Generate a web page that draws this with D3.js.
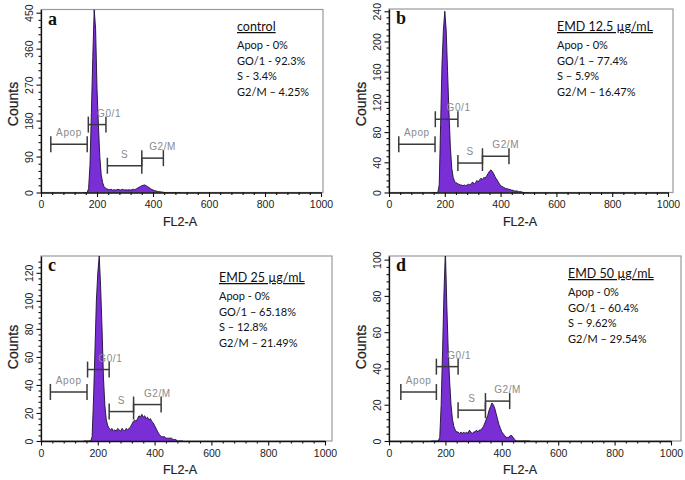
<!DOCTYPE html>
<html><head><meta charset="utf-8">
<script src="https://cdn.jsdelivr.net/npm/d3@7"></script>
<style>body{margin:0;background:#fff} svg{display:block}</style>
</head><body>
<svg id="chart" width="685" height="480"></svg>
<script>
// ---------- DATA ----------
const channels = [150,155,160,165,170,175,180,185,190,195,
                  200,205,210,215,220,225,230,235,240,245,
                  250,255,260,265,270,275,280,285,290,295,
                  300,305,310,315,320,325,330,335,340,345,
                  350,355,360,365,370,375,380,385,390,395,
                  400,405,410,415,420,425,430,435,440,445,
                  450,455,460,465,470,475,480,485,490,495,500];

const countsA = [0,0,0,0,10,70,200,340,458,410,
                 260,170,90,45,25,15,11,9,8,7,
                 8,6,7,6,7,8,7,6,8,7,
                 6,7,6,7,6,7,8,7,9,11,
                 13,15,17,18,19,17,15,13,10,8,
                 6,5,4,3,2,2,1,1,0,0,
                 0,0,0,0,0,0,0,0,0,0,0];
const countsB = [0,0,0,0,0,0,10,90,170,215,
                 240,215,160,105,60,32,20,15,13,12,
                 11,10,10,9,10,9,10,11,10,12,
                 14,11,13,16,14,17,19,17,20,19,
                 22,25,28,30,28,25,21,18,15,12,
                 9,8,7,6,5,5,4,4,3,3,
                 2,2,2,1,1,1,0,0,0,0,0];
const countsC = [0,0,0,0,0,0,3,30,65,100,
                 120,132,110,80,45,25,15,11,9,8,
                 9,7,8,7,9,8,7,9,8,7,
                 9,8,9,10,12,14,15,14,16,18,
                 17,19,17,18,16,17,15,16,14,13,
                 11,9,7,5,4,3,3,3,2,2,
                 2,2,2,1,1,1,0,0,0,0,0];
const countsD = [0,0,0,0,0,0,2,20,50,82,
                 105,75,50,33,20,12,8,6,5,5,
                 4,5,4,5,4,5,4,6,5,4,
                 5,5,6,5,6,6,7,8,10,12,
                 14,17,19,21,20,18,15,12,9,7,
                 5,4,3,2,2,2,3,3,2,1,
                 0,0,0,0,0,0,0,0,0,0,0];

const gateNames = ["Apop","G0/1","S","G2/M"];
// [low channel, high channel, count level]
const gatesA = [[35,165,121],[169,232,170],[237,360,67],[360,437,86]];
const gatesB = [[35,165,64],[166,247,97],[247,335,39],[335,430,48]];
const gatesC = [[33,162,35],[164,240,51],[240,326,21],[326,423,26]];
const gatesD = [[42,168,27],[168,245,41],[245,342,17],[342,428,22]];

const xTicks = [0,200,400,600,800,1000];
const yTicksA = [0,90,180,270,360,450];
const yTicksB = [0,40,80,120,160,200,240];
const yTicksC = [0,20,40,60,80,100,120];
const yTicksD = [0,20,40,60,80,100];

const panelLetters = ["a","b","c","d"];
const titles = ["control","EMD 12.5 µg/mL","EMD 25 µg/mL","EMD 50 µg/mL"];
const statsA = ["Apop - 0%","GO/1 - 92.3%","S - 3.4%","G2/M – 4.25%"];
const statsB = ["Apop - 0%","GO/1 – 77.4%","S – 5.9%","G2/M – 16.47%"];
const statsC = ["Apop - 0%","GO/1 – 65.18%","S – 12.8%","G2/M – 21.49%"];
const statsD = ["Apop - 0%","GO/1 – 60.4%","S – 9.62%","G2/M – 29.54%"];

// ---------- LAYOUT ----------
const panels = [
  {counts:countsA, gates:gatesA, yTicks:yTicksA, yMax:458, yMinor:18,  stats:statsA,
   L:{x0:41, x1:321, right:323, y0:192.5, top:9.5, ann:[237,31], cnt:[13,104], fl:[180,226]}},
  {counts:countsB, gates:gatesB, yTicks:yTicksB, yMax:243, yMinor:8,   stats:statsB,
   L:{x0:389, x1:668, right:673, y0:192.5, top:9, ann:[557,31], cnt:[361,104], fl:[520,226]}},
  {counts:countsC, gates:gatesC, yTicks:yTicksC, yMax:132, yMinor:4,   stats:statsC,
   L:{x0:41, x1:325, right:332, y0:441, top:256, ann:[219,282], cnt:[13,347], fl:[180,474]}},
  {counts:countsD, gates:gatesD, yTicks:yTicksD, yMax:102, yMinor:4,   stats:statsD,
   L:{x0:389, x1:671, right:681, y0:441, top:256, ann:[568,278], cnt:[361,347], fl:[520,474]}}
];

const svg = d3.select("#chart");
const PURPLE = "#7a2fd6";
const SANS = "'Liberation Sans', Arial, sans-serif";
const ANNF = "Lato, 'Open Sans', sans-serif";

panels.forEach((p, i) => {
  const L = p.L;
  const x = d3.scaleLinear().domain([0,1000]).range([L.x0, L.x1]);
  const y = d3.scaleLinear().domain([0,p.yMax]).range([L.y0, L.top]);
  const g = svg.append("g");

  // frame
  g.append("rect").attr("x",L.x0).attr("y",L.top)
    .attr("width",L.right-L.x0).attr("height",L.y0-L.top)
    .attr("fill","none").attr("stroke","#9a9a9a").attr("stroke-width",1.2);

  // histogram
  const clipId = "clip"+i;
  g.append("clipPath").attr("id",clipId).append("rect")
    .attr("x",L.x0).attr("y",L.top).attr("width",L.right-L.x0).attr("height",L.y0-L.top);
  const data = channels.map((c,k)=>({c, v:p.counts[k]}));
  const area = d3.area().x(d=>x(d.c)).y0(y(0)).y1(d=>y(d.v));
  const line = d3.line().x(d=>x(d.c)).y(d=>y(d.v));
  g.append("path").datum(data).attr("d",area).attr("fill",PURPLE).attr("clip-path",`url(#${clipId})`);
  g.append("path").datum(data).attr("d",line).attr("fill","none")
    .attr("stroke","#1c1030").attr("stroke-width",0.9).attr("clip-path",`url(#${clipId})`);

  // axes
  const xMinor = d3.range(0,1001,40).filter(v=>v%200!==0);
  const yMinorVals = d3.range(0,p.yMax,p.yMinor).filter(v=>!p.yTicks.includes(v));
  g.append("g").attr("transform",`translate(0,${L.y0})`)
    .call(d3.axisBottom(x).tickValues(xMinor).tickSize(2.5).tickFormat("").tickSizeOuter(0))
    .call(a=>a.select(".domain").remove());
  g.append("g").attr("transform",`translate(${L.x0},0)`)
    .call(d3.axisLeft(y).tickValues(yMinorVals).tickSize(2.5).tickFormat("").tickSizeOuter(0))
    .call(a=>a.select(".domain").remove());
  const xa = g.append("g").attr("transform",`translate(0,${L.y0})`)
    .call(d3.axisBottom(x).tickValues(xTicks).tickFormat(d3.format("d")).tickSize(4.5).tickPadding(4).tickSizeOuter(0));
  xa.selectAll("text").attr("font-family",SANS).attr("font-size",10.5).attr("fill","#222");
  const ya = g.append("g").attr("transform",`translate(${L.x0},0)`)
    .call(d3.axisLeft(y).tickValues(p.yTicks).tickFormat(d3.format("d")).tickSize(4.5).tickSizeOuter(0));
  ya.selectAll("text").attr("font-family",SANS).attr("font-size",10.5).attr("fill","#222")
    .attr("transform","rotate(-90)").attr("x",0).attr("y",-8).attr("dy","0")
    .attr("text-anchor","middle");
  [xa,ya].forEach(a=>{a.select(".domain").attr("stroke","#111").attr("stroke-width",1.3);});
  g.selectAll(".tick line").attr("stroke","#111").attr("stroke-width",1.1);

  // axis titles
  g.append("text").attr("transform",`translate(${L.cnt[0]},${L.cnt[1]}) rotate(-90)`)
    .attr("text-anchor","middle").attr("dy","0.35em").attr("font-family",SANS)
    .attr("font-size",14).attr("fill","#222").attr("stroke","#222").attr("stroke-width",0.25)
    .text("Counts");
  g.append("text").attr("x",L.fl[0]).attr("y",L.fl[1]).attr("text-anchor","middle")
    .attr("font-family",SANS).attr("font-size",12.5).attr("fill","#222")
    .attr("stroke","#222").attr("stroke-width",0.2).text("FL2-A");

  // gates
  p.gates.forEach((gt, k) => {
    const [lo, hi, lev] = gt;
    const gy = y(lev), xa0 = x(lo), xa1 = x(hi);
    const gg = g.append("g").attr("stroke","#3a3a3a").attr("stroke-width",1.5);
    gg.append("line").attr("x1",xa0).attr("x2",xa1).attr("y1",gy).attr("y2",gy);
    gg.append("line").attr("x1",xa0).attr("x2",xa0).attr("y1",gy-8).attr("y2",gy+8);
    gg.append("line").attr("x1",xa1).attr("x2",xa1).attr("y1",gy-8).attr("y2",gy+8);
    const off = [0,12,0,10][k];
    g.append("text").attr("x",(xa0+xa1)/2+off).attr("y",gy-8)
      .attr("text-anchor","middle").attr("font-family",SANS).attr("font-size",10)
      .attr("letter-spacing","0.6").attr("fill","#8a8a8a").text(gateNames[k]);
  });

  // panel letter
  g.append("text").attr("x",L.x0+7).attr("y",L.top+15)
    .attr("font-family","'Liberation Serif','Times New Roman',serif").attr("font-weight","bold")
    .attr("font-size",18).attr("fill","#111").text(panelLetters[i]);

  // annotation
  g.append("text").attr("x",L.ann[0]).attr("y",L.ann[1])
    .attr("font-family",ANNF).attr("font-size",12.5).attr("fill","#111")
    .attr("text-decoration","underline").text(titles[i]);
  p.stats.forEach((s,k)=>{
    g.append("text").attr("x",L.ann[0]).attr("y",L.ann[1]+18+k*15.5)
      .attr("font-family",ANNF).attr("font-size",11).attr("fill","#111").text(s);
  });
});
</script>
</body></html>
